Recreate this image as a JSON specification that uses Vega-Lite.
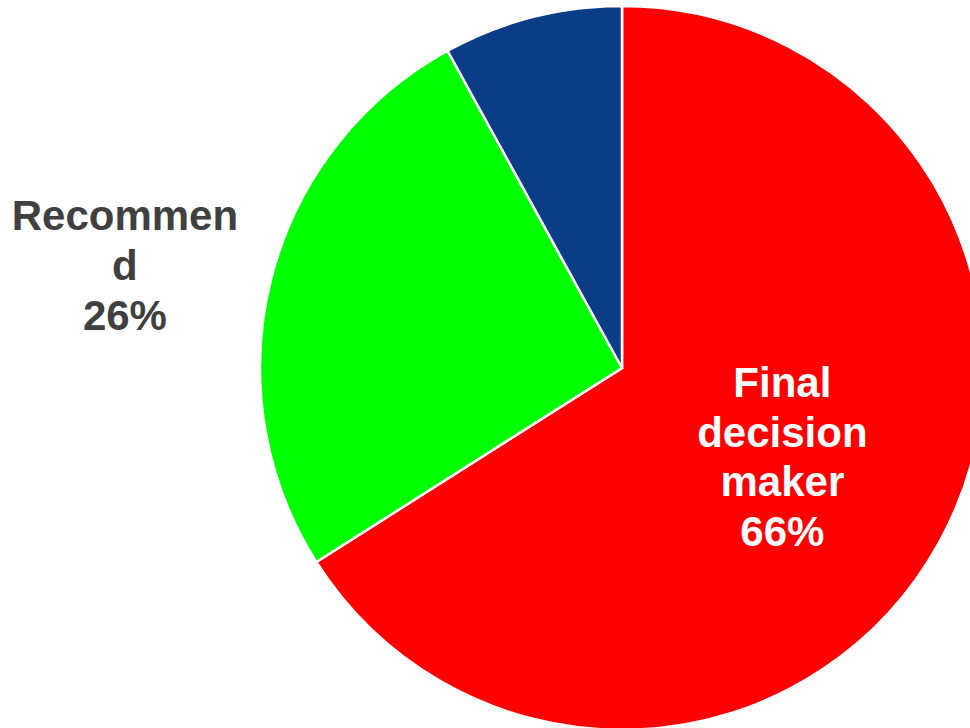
{
  "$schema": "https://vega.github.io/schema/vega-lite/v6.json",
  "width": 1244,
  "height": 736,
  "padding": 0,
  "autosize": {"type": "none"},
  "background": "white",
  "config": {"view": {"stroke": null}},
  "data": {
    "values": [
      {"segment": "Final decision maker", "share": 66, "idx": 1, "label": "Final\ndecision\nmaker\n66%"},
      {"segment": "Recommend", "share": 26, "idx": 2, "label": "Recommen\nd\n26%"},
      {"segment": "Other", "share": 8, "idx": 3, "label": ""}
    ]
  },
  "encoding": {
    "theta": {"field": "share", "type": "quantitative", "stack": true},
    "order": {"field": "idx", "type": "quantitative"}
  },
  "layer": [
    {
      "mark": {"type": "arc", "outerRadius": 362, "stroke": "white", "strokeWidth": 2.5},
      "encoding": {
        "color": {
          "field": "segment",
          "type": "nominal",
          "scale": {"domain": ["Final decision maker", "Recommend", "Other"], "range": ["#FF0000", "#00FF00", "#0A3D85"]},
          "legend": null
        }
      }
    },
    {
      "mark": {"type": "text", "radius": 183, "dy": -72, "fontSize": 42, "fontWeight": "bold", "font": "Liberation Sans", "lineBreak": "\n", "lineHeight": 49.5, "fill": "white", "align": "center", "baseline": "middle"},
      "encoding": {
        "text": {"condition": {"test": "datum.segment === 'Final decision maker'", "field": "label"}, "value": ""}
      }
    },
    {
      "mark": {"type": "text", "radius": 507, "dx": -6, "dy": -25, "fontSize": 42, "fontWeight": "bold", "font": "Liberation Sans", "lineBreak": "\n", "lineHeight": 50, "fill": "#404040", "align": "center", "baseline": "middle"},
      "encoding": {
        "text": {"condition": {"test": "datum.segment !== 'Final decision maker'", "field": "label"}, "value": ""}
      }
    }
  ]
}
